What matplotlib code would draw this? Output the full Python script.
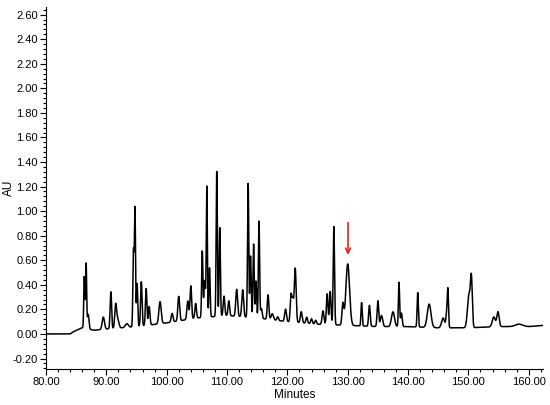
import numpy as np
import matplotlib
matplotlib.use("Agg")
import matplotlib.pyplot as plt
from matplotlib.ticker import MultipleLocator, FormatStrFormatter

plt.rcParams['font.family'] = ['Liberation Sans', 'DejaVu Sans']

# Baseline drift (minutes, AU)
base_t = [80, 84.0, 84.6, 86.0, 88.0, 90.0, 95.0, 100.0, 105.0, 110.0, 115.0, 120.0, 125.0, 130.0, 135.0, 140.0, 145.0, 150.0, 155.0, 160.0, 162.5]
base_y = [0.0, 0.0, 0.02, 0.05, 0.03, 0.04, 0.06, 0.09, 0.13, 0.15, 0.13, 0.10, 0.08, 0.07, 0.06, 0.06, 0.05, 0.05, 0.06, 0.06, 0.07]

# Peak table: retention time (min), height above baseline (AU), width (min)
peak_rt = [86.35, 86.65, 87.0, 89.5, 90.75, 91.55, 91.9, 93.4,
           94.5, 94.75, 95.1, 95.8, 96.6, 97.1, 98.9, 100.9, 102.0, 103.5, 104.0, 104.8, 105.9,
           106.3, 106.65, 107.1, 108.3, 108.8, 109.5, 110.3, 111.6, 112.6, 113.5, 113.9, 114.4, 114.8, 115.3,
           115.7, 116.8, 117.5, 118.4, 119.7,
           120.6, 120.9, 121.3, 122.3, 123.2, 124.0, 124.7, 125.9, 126.6, 127.1, 127.7, 129.2, 130.0,
           132.3, 133.6,
           135.0, 135.6, 137.5, 138.5, 138.9, 141.6, 143.5, 145.8, 146.4, 146.6, 150.1, 150.5,
           154.2, 154.9, 158.4]
peak_h = [0.42, 0.53, 0.12, 0.10, 0.30, 0.19, 0.07, 0.03,
          0.62, 0.95, 0.35, 0.36, 0.30, 0.15, 0.18, 0.07, 0.20, 0.15, 0.27, 0.12, 0.54,
          0.30, 1.06, 0.40, 1.18, 0.72, 0.16, 0.12, 0.22, 0.22, 1.09, 0.50, 0.60, 0.30, 0.79,
          0.08, 0.20, 0.05, 0.03, 0.10,
          0.22, 0.18, 0.44, 0.09, 0.05, 0.04, 0.03, 0.11, 0.25, 0.27, 0.80, 0.17, 0.50,
          0.19, 0.17,
          0.21, 0.09, 0.12, 0.36, 0.11, 0.28, 0.19, 0.08, 0.11, 0.29, 0.27, 0.36,
          0.08, 0.12, 0.02]
peak_w = [0.09, 0.09, 0.13, 0.19, 0.12, 0.15, 0.19, 0.25,
          0.10, 0.09, 0.10, 0.12, 0.12, 0.13, 0.19, 0.15, 0.15, 0.15, 0.13, 0.13, 0.10,
          0.13, 0.09, 0.10, 0.10, 0.10, 0.13, 0.13, 0.15, 0.15, 0.10, 0.10, 0.10, 0.10, 0.10,
          0.13, 0.13, 0.19, 0.13, 0.15,
          0.13, 0.13, 0.15, 0.15, 0.13, 0.13, 0.13, 0.15, 0.13, 0.13, 0.11, 0.15, 0.30,
          0.10, 0.13,
          0.13, 0.19, 0.25, 0.10, 0.13, 0.10, 0.30, 0.25, 0.13, 0.10, 0.25, 0.15,
          0.25, 0.19, 0.60]

arrow_t = 130.05
arrow_top = 0.93
arrow_tip = 0.62

t = np.arange(80.0, 162.35, 0.01)
y = np.interp(t, base_t, base_y)
for rt, h, w in zip(peak_rt, peak_h, peak_w):
    y = y + h * np.exp(-0.5 * ((t - rt) / w) ** 2)

fig = plt.figure(figsize=(5.5, 4.05), dpi=100)
ax = fig.add_axes([0.0836, 0.089, 0.903, 0.893])
ax.plot(t, y, color='black', lw=1.1)

ax.annotate('', xy=(arrow_t, arrow_tip), xytext=(arrow_t, arrow_top),
            arrowprops=dict(arrowstyle='->', color='#e8231c', lw=1.2, mutation_scale=9))

ax.set_xlim(80, 162.3)
ax.set_ylim(-0.285, 2.66)
ax.xaxis.set_major_locator(MultipleLocator(10))
ax.xaxis.set_minor_locator(MultipleLocator(2))
ax.yaxis.set_minor_locator(MultipleLocator(0.04))
ax.xaxis.set_major_formatter(FormatStrFormatter('%.2f'))
yt = np.arange(-0.2, 2.61, 0.2)
ax.set_yticks(yt)
ax.set_yticklabels(['%.2f' % v if abs(v) > 1e-9 else '0.00' for v in yt])
ax.tick_params(axis='both', which='major', labelsize=8, length=4, width=0.8, direction='out', pad=2)
ax.tick_params(axis='both', which='minor', length=2, width=0.8, direction='out')
for s in ['top', 'right']:
    ax.spines[s].set_visible(False)
ax.set_xlabel('Minutes', fontsize=8.5, labelpad=1)
ax.set_ylabel('AU', fontsize=8.5)
ax.yaxis.set_label_coords(-0.063, 0.5)

fig.savefig('out.png', dpi=100)
